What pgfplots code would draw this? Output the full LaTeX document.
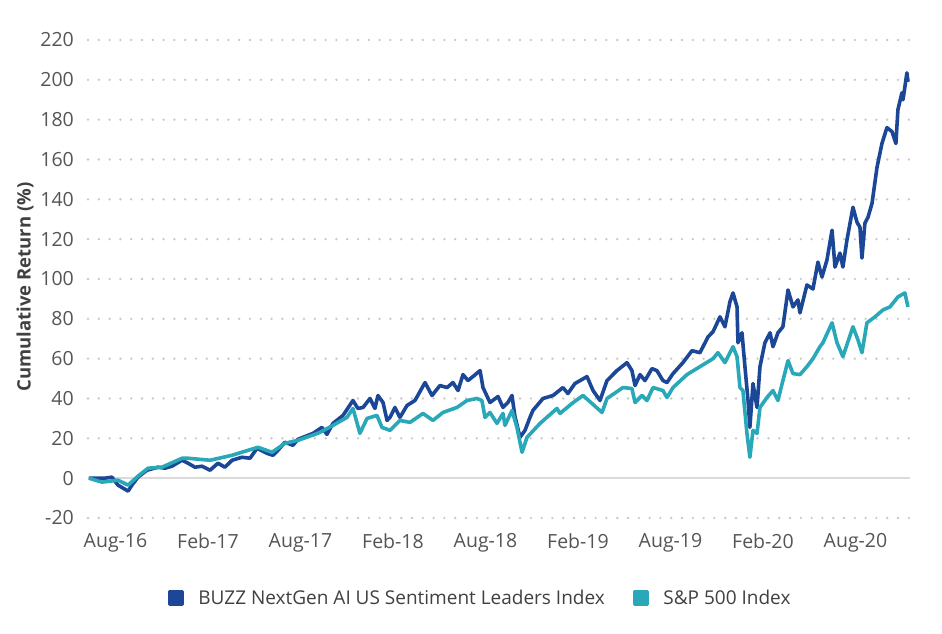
\documentclass[border=0pt]{standalone}
\usepackage{fontspec}
\setmainfont{Open Sans}
\usepackage{pgfplots}
\pgfplotsset{compat=1.18}
\definecolor{buzz}{RGB}{27,71,150}
\definecolor{spx}{RGB}{40,168,184}
\definecolor{gridc}{RGB}{200,200,200}
\definecolor{zeroc}{RGB}{218,218,218}
\definecolor{txt}{RGB}{85,85,85}
\definecolor{lab}{RGB}{64,64,64}
\begin{document}
\begin{tikzpicture}
\begin{axis}[
  scale only axis,
  width=822pt, height=478pt,
  xmin=-1.355, xmax=51.68,
  ymin=-20, ymax=220,
  xtick={0.419,6.387,12.355,18.323,24.291,30.259,36.227,42.195,48.163},
  xticklabels={Aug-16,Feb-17,Aug-17,Feb-18,Aug-18,Feb-19,Aug-19,Feb-20,Aug-20},
  ytick={-20,20,40,60,80,100,120,140,160,180,200,220},
  extra y ticks={0},
  extra y tick style={grid style={solid, draw=zeroc, line width=1.6pt, line cap=butt}},
  ymajorgrids,
  grid style={draw=gridc, line width=2.6pt, line cap=round, dash pattern=on 0pt off 10.8pt},
  axis line style={draw=none},
  tick style={draw=none},
  major tick length=0pt,
  /pgf/number format/assume math mode=true,
  ticklabel style={font=\fontsize{19.5}{22}\selectfont, text=txt},
  yticklabel style={anchor=east, inner sep=0pt, xshift=-14pt},
  xticklabel style={anchor=north, inner sep=0pt, yshift=-15pt},
  ylabel={Cumulative Return (\%)},
  ylabel style={at={(axis description cs:-0.0766,0.483)}, anchor=center, rotate=0, font=\bfseries\fontsize{18.5}{22}\selectfont, text=lab},
  legend columns=2,
  legend style={at={(axis description cs:0.477,-0.167)}, anchor=center, draw=none, fill=none, inner sep=0pt,
    font=\fontsize{19}{22}\selectfont, text=lab,
    /tikz/every odd column/.append style={column sep=12pt},
    /tikz/every even column/.append style={column sep=26pt}},
  legend image code/.code={\fill[#1] (0pt,-6.5pt) rectangle (13pt,6.5pt);},
  every axis plot/.append style={line width=3.6pt, line join=round, mark=none},
]
\addplot[buzz] coordinates {
(-1.3,0) (-0.26,0) (0.19,0.5) (0.58,-3.5) (1.23,-6.5) (1.48,-3.5) (1.87,0.5) (2.45,4) (3.16,5.5) (3.61,5) (4.06,6) (4.71,9) (5.10,7.5) (5.55,5.5) (6.00,6) (6.52,4) (7.03,7.5) (7.48,5.5) (7.94,9) (8.58,10.5) (9.10,10) (9.55,15) (10.19,12.5) (10.58,11.5) (10.90,14) (11.35,18) (11.87,16.5) (12.19,19.5) (12.84,21.5) (13.16,22.5) (13.74,25.5) (14.06,22) (14.45,27.5) (15.10,31.5) (15.74,39) (16.06,35) (16.39,35.5) (16.84,40) (17.16,35) (17.35,41.5) (17.68,38) (17.94,29) (18.13,30.5) (18.45,35.5) (18.77,30.5) (19.23,36.5) (19.74,39) (20.39,48) (20.84,41.5) (21.35,46.5) (21.81,45.5) (22.19,48) (22.52,44) (22.84,52) (23.16,49) (23.48,51) (23.94,54) (24.13,45.5) (24.58,38) (25.10,41) (25.42,35.5) (25.74,38) (26.00,41.5) (26.19,31) (26.52,20.5) (26.84,24) (27.16,30.5) (27.35,34) (28.00,40) (28.65,41.5) (29.29,45.5) (29.61,42.5) (30.06,47.5) (30.84,51) (31.23,44) (31.68,39) (32.13,49) (32.77,54) (33.42,58) (33.74,54) (33.94,46.5) (34.26,52) (34.58,49) (35.03,55) (35.35,54) (35.74,49) (36.00,48) (36.39,52.5) (37.03,58) (37.61,64) (38.13,63) (38.65,71) (38.97,73.5) (39.42,81) (39.74,76) (40.06,88.5) (40.26,93) (40.52,86) (40.58,68) (40.84,73) (41.03,56) (41.23,39) (41.35,25.5) (41.55,47.5) (41.81,35.5) (42.00,56) (42.32,68) (42.65,73) (42.84,66) (43.16,73) (43.48,76) (43.81,94.5) (44.13,86) (44.45,89.5) (44.58,83) (45.03,97) (45.42,95) (45.74,108.5) (46.00,101) (46.32,109.5) (46.65,124.5) (46.84,106) (47.16,113) (47.35,106) (47.61,119.5) (48.00,136) (48.26,128.5) (48.45,126) (48.58,110.5) (48.77,128) (48.97,131) (49.23,138) (49.55,156) (49.87,168) (50.19,176) (50.52,174) (50.77,168) (50.90,185) (51.16,193.5) (51.23,190) (51.48,203.5) (51.55,199)
};
\addlegendentry{BUZZ NextGen AI US Sentiment Leaders Index}
\addplot[spx] coordinates {
(-1.3,0) (-0.45,-2) (0.58,-1) (1.23,-3.5) (1.87,1) (2.52,5) (3.42,5.5) (4.71,10) (5.10,10) (6.52,9) (7.94,11.5) (8.77,13.5) (9.61,15.5) (10.52,13) (11.35,17.5) (12.19,19) (13.29,22) (13.61,23) (14.45,26.5) (15.35,30.5) (15.74,35) (16.19,22.5) (16.65,30) (17.29,31.5) (17.61,25.5) (18.13,24) (18.77,29) (19.42,28) (20.26,32.5) (20.90,29) (21.55,33) (22.45,35.5) (23.10,39) (23.74,40) (24.06,39) (24.26,30.5) (24.58,33) (25.03,27.5) (25.42,32.5) (25.55,26.5) (26.00,34) (26.32,25.5) (26.65,13) (26.97,20.5) (27.81,27.5) (28.90,35) (29.10,32.5) (29.87,37.5) (30.58,41.5) (31.16,37.5) (31.81,33) (32.13,40) (33.16,45.5) (33.74,45) (33.94,38) (34.39,41.5) (34.71,39) (35.10,45.5) (35.74,44) (36.00,40.5) (36.39,45.5) (37.29,52) (38.13,56) (38.97,60) (39.29,63) (39.74,58) (40.26,66) (40.52,61) (40.71,45.5) (40.90,44) (41.16,22.5) (41.35,10.5) (41.55,24) (41.81,22.5) (42.00,35.5) (42.45,40.5) (42.84,44) (43.16,39) (43.48,49) (43.81,59) (44.13,52.5) (44.58,52) (45.03,56) (45.42,60) (45.87,66) (46.06,68) (46.65,78) (46.97,68) (47.35,61) (48.00,76) (48.32,69.5) (48.58,63) (48.90,78) (49.42,81) (49.94,84.5) (50.39,86) (50.90,91) (51.35,93) (51.55,86)
};
\addlegendentry{S\&P 500 Index}
\end{axis}
\path[use as bounding box] (-88pt,-116pt) rectangle (854pt,518pt);
\end{tikzpicture}
\end{document}
